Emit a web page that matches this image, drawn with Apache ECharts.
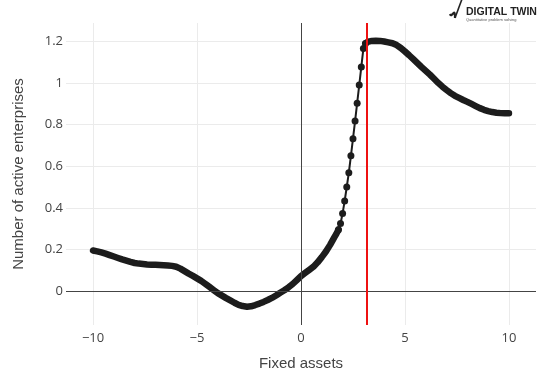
<!DOCTYPE html>
<html>
<head>
<meta charset="utf-8">
<script src="https://cdn.jsdelivr.net/npm/echarts@6/dist/echarts.min.js"></script>
<style>html,body{margin:0;padding:0;background:#fff}#c{width:559px;height:379px}</style>
</head>
<body>
<div id="c"></div>
<script>
// Data
const xValues = [-10.0,-9.8,-9.6,-9.4,-9.2,-9.0,-8.8,-8.6,-8.4,-8.2,-8.0,-7.8,-7.6,-7.4,-7.2,-7.0,-6.8,-6.6,-6.4,-6.2,-6.0,-5.8,-5.6,-5.4,-5.2,-5.0,-4.8,-4.6,-4.4,-4.2,-4.0,-3.8,-3.6,-3.4,-3.2,-3.0,-2.8,-2.6,-2.4,-2.2,-2.0,-1.8,-1.6,-1.4,-1.2,-1.0,-0.8,-0.6,-0.4,-0.2,0.0,0.2,0.4,0.6,0.8,1.0,1.2,1.4,1.5,1.6,1.7,1.8,1.9,2.0,2.1,2.2,2.3,2.4,2.5,2.6,2.7,2.8,2.9,3.0,3.1,3.2,3.3,3.4,3.6,3.8,4.0,4.2,4.4,4.6,4.8,5.0,5.2,5.4,5.6,5.8,6.0,6.2,6.4,6.6,6.8,7.0,7.2,7.4,7.6,7.8,8.0,8.2,8.4,8.6,8.8,9.0,9.2,9.4,9.6,9.8,10.0];
const yValues = [0.195,0.191,0.186,0.180,0.173,0.166,0.159,0.152,0.146,0.140,0.135,0.132,0.130,0.128,0.127,0.126,0.125,0.124,0.123,0.121,0.117,0.108,0.096,0.084,0.073,0.061,0.049,0.035,0.020,0.005,-0.010,-0.022,-0.034,-0.045,-0.056,-0.066,-0.072,-0.075,-0.073,-0.067,-0.060,-0.052,-0.043,-0.033,-0.021,-0.008,0.004,0.018,0.034,0.053,0.072,0.087,0.102,0.117,0.138,0.163,0.190,0.222,0.240,0.258,0.275,0.295,0.325,0.373,0.433,0.500,0.569,0.650,0.732,0.817,0.903,0.990,1.077,1.165,1.190,1.197,1.200,1.202,1.203,1.202,1.199,1.195,1.191,1.182,1.168,1.151,1.133,1.114,1.095,1.076,1.058,1.040,1.020,1.000,0.982,0.966,0.951,0.938,0.928,0.918,0.909,0.899,0.889,0.879,0.871,0.865,0.860,0.857,0.855,0.854,0.854];
const xTicks = [-10, -5, 0, 5, 10];
const yTicks = [0, 0.2, 0.4, 0.6, 0.8, 1, 1.2];
const markerX = 3.17;
// x-range where the sampled points are far apart (drawn as separate dots)
const steepFrom = 1.8;
const steepTo = 3.1;
const xTitle = 'Fixed assets';
const yTitle = 'Number of active enterprises';
const titleText = 'Marginal change of target by changing input';

const chart = echarts.init(document.getElementById('c'), null, {renderer: 'canvas'});
const pts = xValues.map((x, i) => [x, yValues[i]]);
const flatLeft = pts.filter(p => p[0] <= steepFrom);
const steep = pts.filter(p => p[0] >= steepFrom && p[0] <= steepTo);
const flatRight = pts.filter(p => p[0] >= steepTo);
const tickFont = '"Open Sans", "DejaVu Sans", sans-serif';
const titleFont = '"Liberation Sans", Arial, sans-serif';
const ink = '#1c1c1c';

const thick = data => ({
  type: 'line', data, z: 3, silent: true, showSymbol: false, symbol: 'none',
  lineStyle: {color: ink, width: 6.5, cap: 'round', join: 'round'}
});

chart.setOption({
  animation: false,
  backgroundColor: '#ffffff',
  title: {
    text: titleText, left: 'center', top: -21,
    textStyle: {fontFamily: titleFont, fontSize: 15, fontWeight: 'normal', color: '#333'}
  },
  grid: {left: 66, right: 23, top: 23, bottom: 54, containLabel: false},
  xAxis: {
    type: 'value', min: -11.3, max: 11.3,
    name: xTitle, nameLocation: 'middle', nameGap: 31,
    nameTextStyle: {fontFamily: titleFont, fontSize: 15, color: '#444'},
    axisLine: {show: false},
    axisTick: {show: false, customValues: xTicks},
    axisLabel: {customValues: xTicks, margin: 7, fontFamily: tickFont, fontSize: 13, color: '#444',
      formatter: v => (v < 0 ? '\u2212' + Math.abs(v) : String(v))},
    splitLine: {show: true, lineStyle: {color: '#ebebeb', width: 1}}
  },
  yAxis: {
    type: 'value', min: -0.163, max: 1.288,
    name: yTitle, nameLocation: 'middle', nameGap: 40, nameRotate: 90,
    nameTextStyle: {fontFamily: titleFont, fontSize: 15, color: '#444'},
    axisLine: {show: false},
    axisTick: {show: false, customValues: yTicks},
    axisLabel: {customValues: yTicks, margin: 3, fontFamily: tickFont, fontSize: 13, color: '#444',
      formatter: v => String(Math.round(v * 10) / 10)},
    splitLine: {show: true, lineStyle: {color: '#ebebeb', width: 1}}
  },
  series: [
    {
      type: 'line', data: [], z: 1, silent: true,
      markLine: {
        silent: true, symbol: 'none', label: {show: false},
        lineStyle: {color: '#444', width: 1, type: 'solid'},
        data: [{xAxis: 0}, {yAxis: 0}]
      }
    },
    thick(flatLeft),
    thick(flatRight),
    {
      type: 'line', data: steep, z: 3, silent: true,
      symbol: 'circle', symbolSize: 7, showSymbol: true,
      lineStyle: {color: ink, width: 2},
      itemStyle: {color: ink}
    },
    {
      type: 'line', data: [], z: 5, silent: true,
      markLine: {
        silent: true, symbol: 'none', label: {show: false},
        lineStyle: {color: '#ee1111', width: 2, type: 'solid'},
        data: [{xAxis: markerX}]
      }
    }
  ],
  graphic: [
    {type: 'bezierCurve', shape: {x1: 450, y1: 14, x2: 455, y2: 18, cpx1: 452, cpy1: 19, cpx2: 455, cpy2: 6}, style: {stroke: '#222', lineWidth: 2.2, fill: null}},
    {type: 'line', shape: {x1: 455, y1: 18, x2: 462, y2: -1}, style: {stroke: '#222', lineWidth: 1.6}},
    {type: 'text', left: 466, top: 7, style: {text: 'DIGITAL TWIN', font: 'bold 10.5px "Liberation Sans Narrow", "Liberation Sans", Arial, sans-serif', fill: '#222'}},
    {type: 'text', left: 466, top: 18, style: {text: 'Quantitative problem solving', font: '4px "Liberation Sans", Arial, sans-serif', fill: '#555'}}
  ]
});
</script>
</body>
</html>
